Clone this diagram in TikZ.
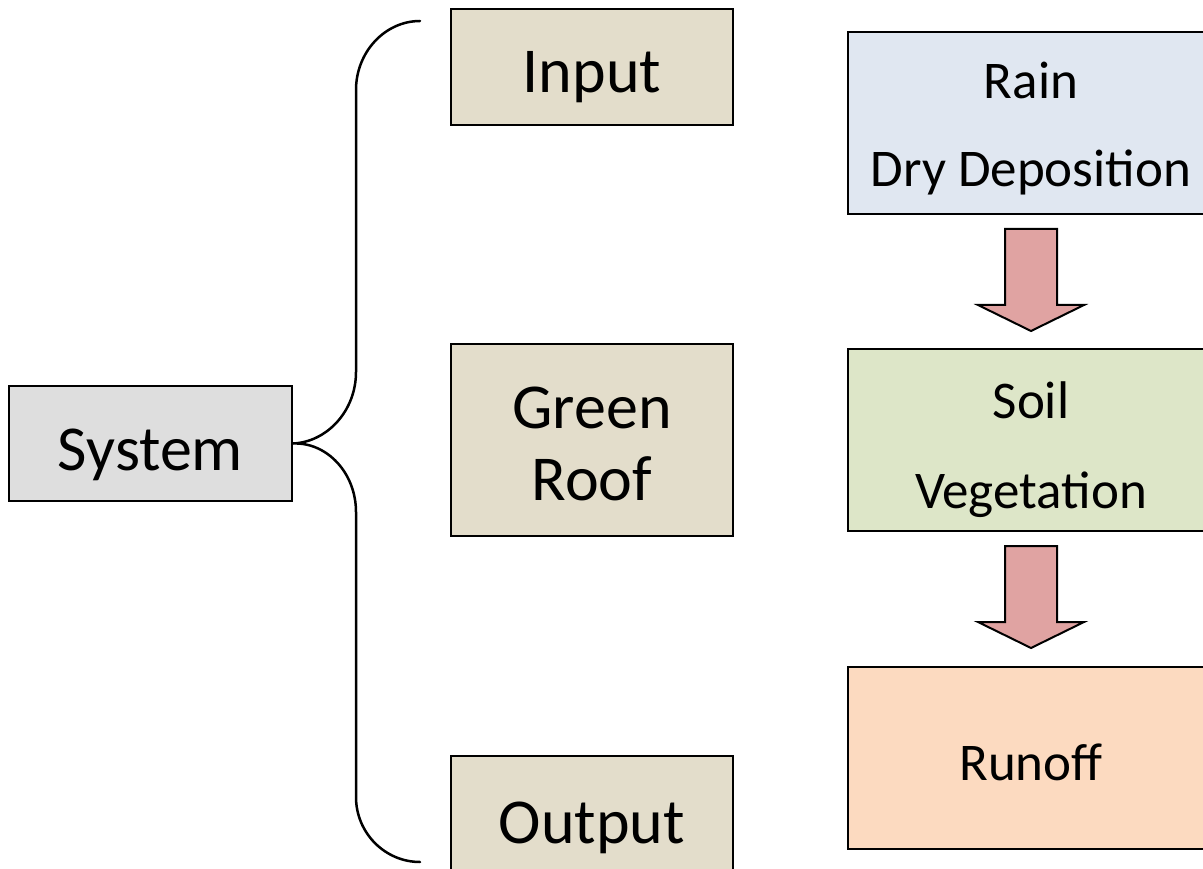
\documentclass[tikz,border=0pt]{standalone}
\usepackage{fontspec}
\setmainfont{Carlito}
\usetikzlibrary{calc}

\definecolor{sysgray}{HTML}{DEDEDE}
\definecolor{tan}{HTML}{E3DDCB}
\definecolor{rainblue}{HTML}{E0E7F1}
\definecolor{soilgreen}{HTML}{DDE6C8}
\definecolor{runoffpeach}{HTML}{FCDAC0}
\definecolor{flowred}{HTML}{E0A3A2}

\begin{document}
\begin{tikzpicture}[x=1pt,y=-1pt,line cap=round]
  % Styles
  \tikzset{
    box/.style={draw=black,line width=2pt,inner sep=0pt,align=center},
    bigtext/.style={font=\fontsize{64}{72}\selectfont},
    smalltext/.style={font=\fontsize{53}{88}\selectfont},
    flow/.style={draw=black,line width=2pt,fill=flowred,line join=miter},
    brace/.style={line width=2.5pt}
  }
  \useasboundingbox (0,0) rectangle (1203,869);
  \clip (0,0) rectangle (1203,869);

  % Left: the system
  \node[box,bigtext,fill=sysgray,minimum width=283pt,minimum height=115pt,
        text height=53pt,text depth=0pt] (sys) at (150.5,443.5) {System};

  % Middle column
  \node[box,bigtext,fill=tan,minimum width=282pt,minimum height=116pt,
        text height=52pt,text depth=0pt] (input) at (592,67) {Input};
  \node[box,bigtext,fill=tan,minimum width=282pt,minimum height=192pt,
        text height=120pt,text depth=0pt] (roof) at (592,440) {Green\\Roof};
  \node[box,bigtext,fill=tan,minimum width=282pt,minimum height=122pt,
        text height=52pt,text depth=0pt] (output) at (592,817) {Output};

  % Right column
  \node[box,smalltext,fill=rainblue,minimum width=366pt,minimum height=182pt,
        text height=128pt,text depth=0pt] (rain) at (1031,123) {Rain\\Dry Deposition};
  \node[box,smalltext,fill=soilgreen,minimum width=366pt,minimum height=182pt,
        text height=136pt,text depth=0pt] (soil) at (1031,440) {Soil\\[2pt]Vegetation};
  \node[box,smalltext,fill=runoffpeach,minimum width=366pt,minimum height=182pt,
        text height=44pt,text depth=0pt] (runoff) at (1031,758) {Runoff};

  % Block arrows between the right boxes
  \foreach \b in {rain,soil}
    \draw[flow] ($(\b.south)+(-26,14)$) -- ($(\b.south)+(26,14)$)
      -- ($(\b.south)+(26,90)$) -- ($(\b.south)+(53,90)$)
      -- ($(\b.south)+(0,116)$) -- ($(\b.south)+(-53,90)$)
      -- ($(\b.south)+(-26,90)$) -- cycle;

  % Brace
  \coordinate (bracetop) at (420,21);
  \coordinate (bracebot) at (420,862);
  \draw[brace] (bracetop) .. controls (385,21) and (356,52) .. (356,90)
    -- (356,372) .. controls (356,411) and (327,442) .. (sys.east)
    .. controls (327,442) and (356,473) .. (356,512)
    -- (356,797) .. controls (356,833) and (385,862) .. (bracebot);
\end{tikzpicture}
\end{document}
